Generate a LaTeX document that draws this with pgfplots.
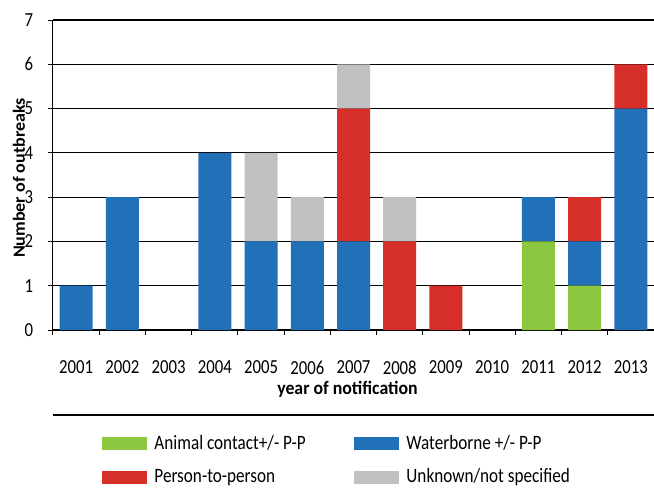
\documentclass[border=0pt]{standalone}
\usepackage{fontspec}
\usepackage{graphicx}
\setmainfont[FakeStretch=0.84]{Carlito}
\newfontfamily\xlabfont[FakeStretch=0.94]{Carlito}
\usepackage{pgfplots}
\pgfplotsset{compat=1.18}
\definecolor{cgreen}{RGB}{141,198,63}
\definecolor{cblue}{RGB}{34,113,184}
\definecolor{cred}{RGB}{214,47,42}
\definecolor{cgray}{RGB}{192,193,195}
\pgfplotsset{sw/.style={legend image code/.code={\fill[##1,draw=none] (0bp,-6.5bp) rectangle (45bp,6.5bp);}}}
\begin{document}
\fontsize{20.5}{24}\selectfont
\begin{tikzpicture}
\useasboundingbox (-53bp,-158bp) rectangle (601bp,330bp);
\begin{axis}[
  at={(0,0)}, anchor=south west,
  scale only axis, width=601bp, height=310bp,
  ybar stacked, bar width=33bp,
  xmin=-0.5, xmax=12.5, ymin=0, ymax=7,
  axis lines=left, axis line style={-, black, line width=1bp},
  xtick={0,...,12},
  xticklabels={2001,2002,2003,2004,2005,2006,2007,2008,2009,2010,2011,2012,2013},
  major x tick style={draw=none},
  minor xtick={-0.5,0.5,...,12.5},
  minor tick length=5bp,
  minor x tick style={black, line width=1bp},
  ytick={0,...,7},
  major tick length=5bp,
  tick align=outside,
  major y tick style={black, line width=1bp},
  ymajorgrids, major grid style={black, line width=1.1bp},
  /pgf/number format/assume math mode=true,
  tick label style={font=\fontsize{20}{24}\selectfont},
  xticklabel style={anchor=north, yshift=-19bp},
  yticklabel style={anchor=east, xshift=-8bp},
  xlabel={year of notification},
  ylabel={\scalebox{1}[0.8]{\fontsize{21.5}{25}\selectfont\bfseries Number of outbreaks}},
  every axis x label/.style={at={(axis description cs:0.49,0)}, anchor=center, yshift=-59bp, font=\fontsize{19}{23}\xlabfont\bfseries},
  ylabel style={at={(axis description cs:-0.0566,0.49)}, anchor=center},
  legend style={at={(axis description cs:0.082,-0.339)}, anchor=north west, draw=none, fill=none,
    legend columns=2, inner sep=0pt, row sep=16bp,
    nodes={inner sep=0pt, anchor=west}, font=\fontsize{20.5}{24}\selectfont,
    /tikz/every odd column/.append style={column sep=7bp}},
  legend cell align=left,
  clip=false,
]
\addplot+[sw, fill=cgreen, draw=none] coordinates {(0,0) (1,0) (2,0) (3,0) (4,0) (5,0) (6,0) (7,0) (8,0) (9,0) (10,2) (11,1) (12,0)};
\addlegendentry{\makebox[200bp][l]{Animal contact+/- P-P}}
\addplot+[sw, fill=cblue, draw=none] coordinates {(0,1) (1,3) (2,0) (3,4) (4,2) (5,2) (6,2) (7,0) (8,0) (9,0) (10,1) (11,1) (12,5)};
\addlegendentry{Waterborne +/- P-P}
\addplot+[sw, fill=cred, draw=none] coordinates {(0,0) (1,0) (2,0) (3,0) (4,0) (5,0) (6,3) (7,2) (8,1) (9,0) (10,0) (11,1) (12,1)};
\addlegendentry{\makebox[200bp][l]{Person-to-person}}
\addplot+[sw, fill=cgray, draw=none] coordinates {(0,0) (1,0) (2,0) (3,0) (4,2) (5,1) (6,1) (7,1) (8,0) (9,0) (10,0) (11,0) (12,0)};
\addlegendentry{Unknown/not specified}
\end{axis}
\draw[black, line width=1.2bp] (0bp,-85bp) -- (601bp,-85bp);
\end{tikzpicture}
\end{document}
